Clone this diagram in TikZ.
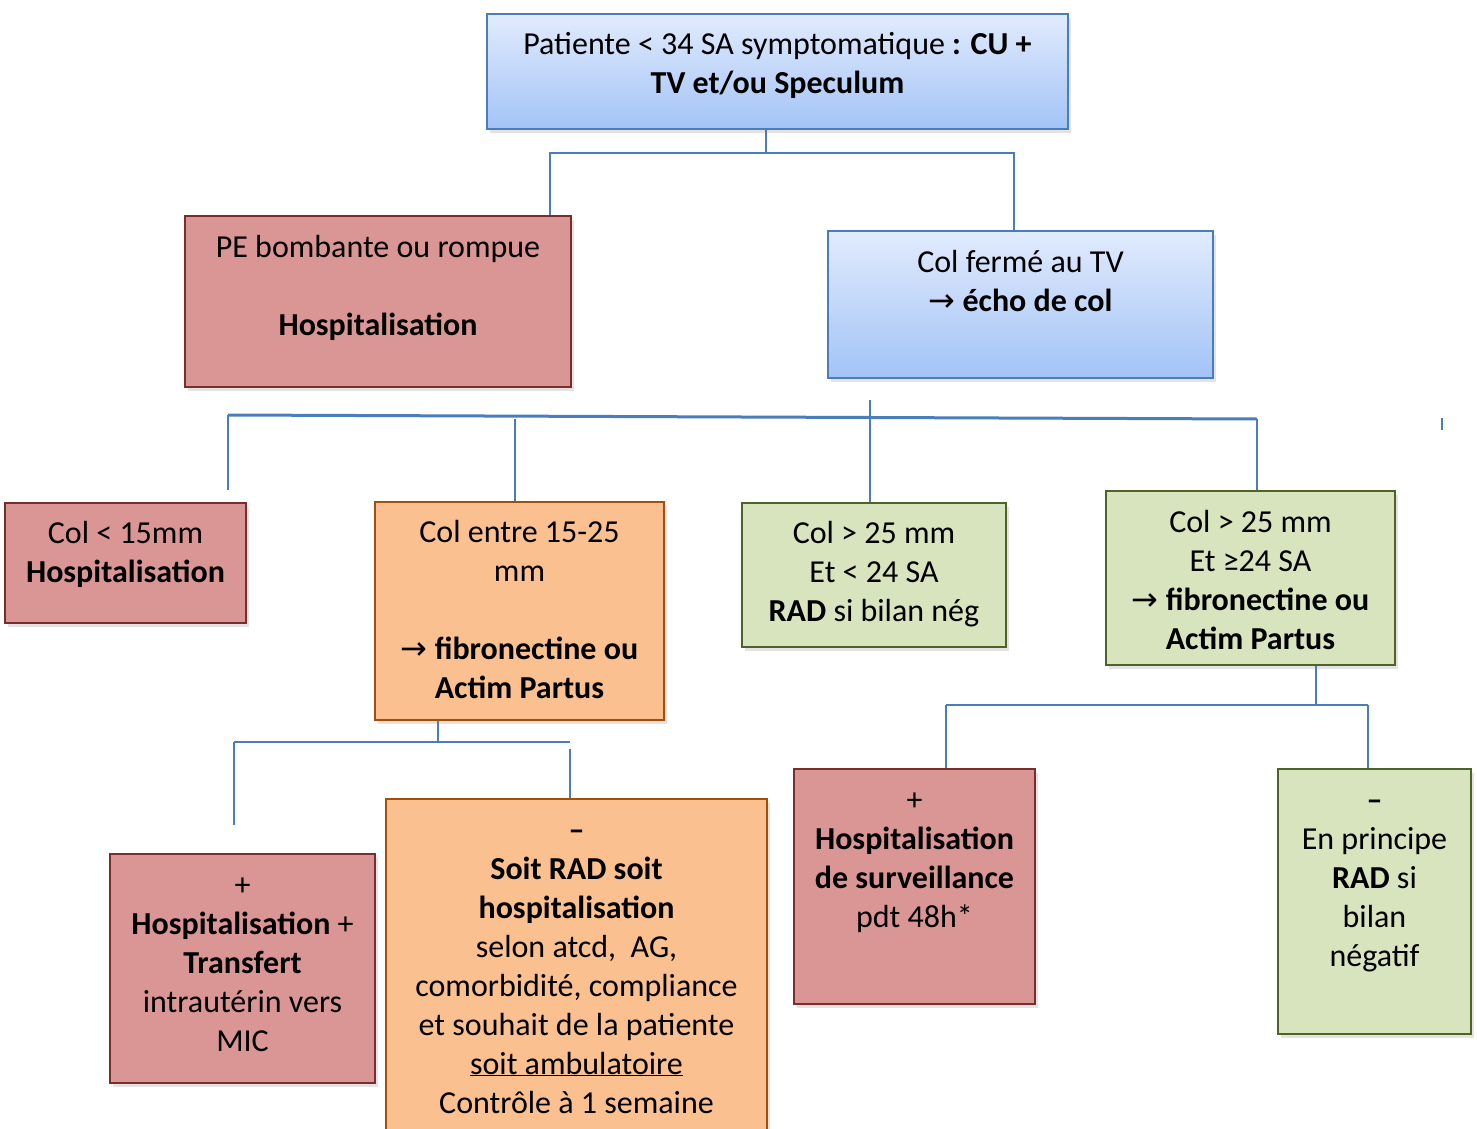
\documentclass[tikz,border=0pt]{standalone}
\usepackage{fontspec}
\setmainfont{Carlito}
\newfontfamily\arrowfont{DejaVu Sans}
\newcommand{\rarr}{{\arrowfont →}}
\usetikzlibrary{shadows}
\definecolor{cblueline}{HTML}{4A7EBB}
\definecolor{cbluetop}{HTML}{E1EBFD}
\definecolor{cbluebot}{HTML}{A3C3F6}
\definecolor{credfill}{HTML}{D99694}
\definecolor{credline}{HTML}{7A2E2C}
\definecolor{corfill}{HTML}{FAC090}
\definecolor{corline}{HTML}{A24F0C}
\definecolor{cgrfill}{HTML}{D7E4BD}
\definecolor{cgrline}{HTML}{4F6228}
\tikzset{
  boxbase/.style={rectangle, inner sep=0pt, anchor=north west, line width=2pt,
    drop shadow={shadow xshift=3pt, shadow yshift=-4pt, opacity=0.22}},
  bluebox/.style={boxbase, draw=cblueline, top color=cbluetop, bottom color=cbluebot},
  redbox/.style={boxbase, draw=credline, fill=credfill},
  orbox/.style={boxbase, draw=corline, fill=corfill},
  grbox/.style={boxbase, draw=cgrline, fill=cgrfill},
  txt/.style={anchor=north, inner sep=0pt, align=center, text=black,
    font=\fontsize{32}{39}\selectfont},
  conn/.style={draw=cblueline, line width=2pt},
  connthick/.style={draw=cblueline, line width=3pt},
}
\begin{document}
\begin{tikzpicture}[x=1pt,y=-1pt]
\clip (0,0) rectangle (1477,1129);
\fill[white] (0,0) rectangle (1477,1129);
% boxes
\node[bluebox, minimum width=581pt, minimum height=115pt] (top) at (486,13) {};
\node[txt] (top-t) at ([yshift=-14.5pt]top.north) {\strut Patiente < 34 SA symptomatique \textbf{: CU +}\\ \textbf{TV et/ou Speculum}};

\node[redbox, minimum width=386pt, minimum height=171pt] (pe) at (184,215) {};
\node[txt] (pe-t) at ([yshift=-14.5pt]pe.north) {\strut PE bombante ou rompue\\[39pt] \textbf{Hospitalisation}};

\node[bluebox, minimum width=385pt, minimum height=147pt] (fer) at (827,230) {};
\node[txt] (fer-t) at ([yshift=-14.5pt]fer.north) {\strut Col fermé au TV\\ \rarr\ \textbf{écho de col}};

\node[redbox, minimum width=241pt, minimum height=120pt] (c15) at (4,502) {};
\node[txt] (c15-t) at ([yshift=-13.5pt]c15.north) {\strut Col < 15mm\\ \textbf{Hospitalisation}};

\node[orbox, minimum width=289pt, minimum height=218pt] (c1525) at (374,501) {};
\node[txt] (c1525-t) at ([yshift=-13.5pt]c1525.north) {\strut Col entre 15-25\\ mm\\[39pt] \rarr\ \textbf{fibronectine ou}\\ \textbf{Actim Partus}};

\node[grbox, minimum width=264pt, minimum height=144pt] (c25a) at (741,502) {};
\node[txt] (c25a-t) at ([yshift=-13.5pt]c25a.north) {\strut Col > 25 mm\\ Et < 24 SA\\ \textbf{RAD} si bilan nég};

\node[grbox, minimum width=289pt, minimum height=174pt] (c25b) at (1105,490) {};
\node[txt] (c25b-t) at ([yshift=-14.5pt]c25b.north) {\strut Col > 25 mm\\ Et ≥24 SA\\ \rarr\ \textbf{fibronectine ou}\\ \textbf{Actim Partus}};

\node[redbox, minimum width=265pt, minimum height=229pt] (tra) at (109,853) {};
\node[txt] (tra-t) at ([yshift=-14.5pt]tra.north) {\strut +\\ \textbf{Hospitalisation} +\\ \textbf{Transfert}\\ intrautérin vers\\ MIC};

\node[orbox, minimum width=381pt, minimum height=360pt] (amb) at (385,798) {};
\node[txt] (amb-t) at ([yshift=-14.5pt]amb.north) {\strut \textbf{–}\\ \textbf{Soit RAD soit}\\ \textbf{hospitalisation}\\ selon atcd,\ \ AG,\\ comorbidité, compliance\\ et souhait de la patiente\\ \underline{soit ambulatoire}\\ Contrôle à 1 semaine};

\node[redbox, minimum width=241pt, minimum height=235pt] (sur) at (793,768) {};
\node[txt] (sur-t) at ([yshift=-14.5pt]sur.north) {\strut +\\ \textbf{Hospitalisation}\\ \textbf{de surveillance}\\ pdt 48h*};

\node[grbox, minimum width=193pt, minimum height=265pt] (neg) at (1277,768) {};
\node[txt] (neg-t) at ([yshift=-14.5pt]neg.north) {\strut \textbf{–}\\ En principe\\ \textbf{RAD} si\\ bilan\\ négatif};

% connectors level 1
\coordinate (j1) at (766,153);
\coordinate (h1l) at (550,153);
\coordinate (h1r) at (1014,153);
\draw[conn] (top.south -| j1) -- (j1);
\draw[conn] (pe.north -| h1l) -- (h1l) -- (h1r) -- (fer.north -| h1r);

% connectors level 2
\coordinate (j2) at (870,400);
\coordinate (h2l) at (228,415);
\coordinate (h2r) at (1257,419);
\coordinate (v2a) at (228,490);
\coordinate (v2b) at (515,419);
\coordinate (tk1) at (1442,418);
\coordinate (tk2) at (1442,430);
\draw[connthick] (h2l) -- (h2r);
\draw[conn] (j2) -- (c25a.north -| j2);
\draw[conn] (h2l) -- (v2a);
\draw[conn] (v2b) -- (c1525.north -| v2b);
\draw[conn] (h2r) -- (c25b.north -| h2r);
\draw[conn, line width=1.5pt] (tk1) -- (tk2);

% connectors level 3 (orange)
\coordinate (j3) at (438,742);
\coordinate (h3l) at (234,742);
\coordinate (h3r) at (570,742);
\coordinate (v3a) at (234,825);
\coordinate (v3b) at (570,749);
\draw[conn] (c1525.south -| j3) -- (j3);
\draw[conn] (h3l) -- (h3r);
\draw[conn] (h3l) -- (v3a);
\draw[conn] (v3b) -- (amb.north -| v3b);

% connectors level 3 (green)
\coordinate (j4) at (1316,705);
\coordinate (h4l) at (946,705);
\coordinate (h4r) at (1368,705);
\draw[conn] (c25b.south -| j4) -- (j4);
\draw[conn] (h4l) -- (h4r);
\draw[conn] (h4l) -- (sur.north -| h4l);
\draw[conn] (h4r) -- (neg.north -| h4r);
\end{tikzpicture}
\end{document}
